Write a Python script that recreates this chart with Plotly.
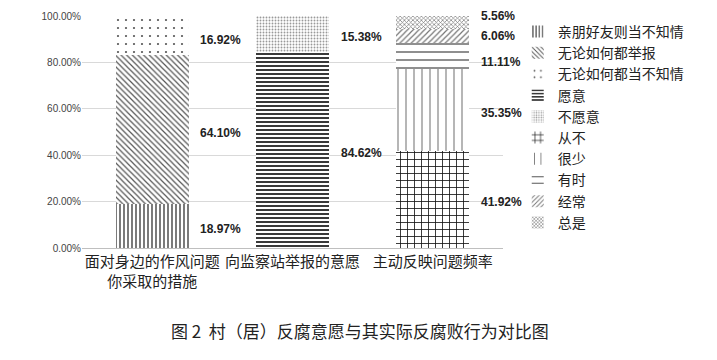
import plotly.graph_objects as go

categories = ["面对身边的作风问题<br>你采取的措施", "向监察站举报的意愿", "主动反映问题频率"]

# series: name, category index, value (fraction)
series_names = ["亲朋好友则当不知情", "无论如何都举报", "无论如何都当不知情",
                "愿意", "不愿意",
                "从不", "很少", "有时", "经常", "总是"]
series_cat = [0, 0, 0, 1, 1, 2, 2, 2, 2, 2]
series_vals = [0.1897, 0.6410, 0.1692,
               0.8462, 0.1538,
               0.4192, 0.3535, 0.1111, 0.0606, 0.0556]
label_texts = ["18.97%", "64.10%", "16.92%",
               "84.62%", "15.38%",
               "41.92%", "35.35%", "11.11%", "6.06%", "5.56%"]

# styles (pattern shape, size, solidity, fg color)
styles = [
    ("|", 4, 0.3, "#222"),
    ("\\", 4, 0.3, "#555"),
    (".", 8, 0.06, "#555"),
    ("-", 4, 0.45, "#222"),
    (".", 3, 0.3, "#999"),
    ("+", 7, 0.22, "#111"),
    ("|", 8, 0.12, "#666"),
    ("-", 8, 0.15, "#444"),
    ("/", 4, 0.3, "#777"),
    ("x", 3, 0.4, "#777"),
]
label_yshift = [2, 2, 3, 2, 2, 2, 2, 4, 0, -4]

fig = go.Figure()
bases = [0.0, 0.0, 0.0]
annotations = []
for i, name in enumerate(series_names):
    c = series_cat[i]
    v = series_vals[i]
    shape, size, sol, fg = styles[i]
    fig.add_trace(go.Bar(
        x=[categories[c]], y=[v], name=name,
        width=0.52,
        legendrank=i + 1,
        marker=dict(color="white",
                    line=dict(width=0),
                    pattern=dict(shape=shape, size=size, solidity=sol,
                                 fgcolor=fg, bgcolor="white", fgopacity=1)),
        hoverinfo="name+y",
    ))
    mid = bases[c] + v / 2
    bases[c] += v
    annotations.append(dict(
        x=c + 0.33, y=mid, xref="x", yref="y", text="<b>" + label_texts[i] + "</b>",
        showarrow=False, xanchor="left", yanchor="middle", yshift=-label_yshift[i] * 1.5,
        font=dict(family="Liberation Sans, Arial", size=12, color="#222"),
    ))

annotations.append(dict(
    x=(352 - 74) / 421, y=0, xref="paper", yref="paper",
    text="图 2  村（居）反腐意愿与其实际反腐败行为对比图",
    showarrow=False, xanchor="center", yanchor="middle", yshift=-82,
    font=dict(family="Noto Sans CJK SC", size=17, color="#222")))

fig.update_layout(
    width=709, height=352,
    barmode="stack",
    plot_bgcolor="white", paper_bgcolor="white",
    margin=dict(l=74, r=214, t=8, b=112),
    showlegend=True,
    legend=dict(x=1.035, y=1.0, xanchor="left", yanchor="top",
                traceorder="normal", maxheight=340,
                font=dict(family="Noto Sans CJK SC", size=14, color="#222"),
                itemwidth=30, tracegroupgap=0, bgcolor="rgba(0,0,0,0)"),
    xaxis=dict(type="category", showgrid=False, showline=False, automargin=False,
               tickfont=dict(family="Noto Sans CJK SC", size=15, color="#222"),
               ticks="", tickangle=0, ticklabelstandoff=3, range=[-0.5, 2.5]),
    yaxis=dict(range=[0, 1], dtick=0.2, tickformat=".2%", automargin=False,
               showgrid=True, gridcolor="#d9d9d9", gridwidth=1,
               zeroline=True, zerolinecolor="#bfbfbf", zerolinewidth=1,
               showline=False,
               tickfont=dict(family="Liberation Sans, Arial", size=10, color="#444")),
    annotations=annotations,
)

fig.write_html("out.html")
